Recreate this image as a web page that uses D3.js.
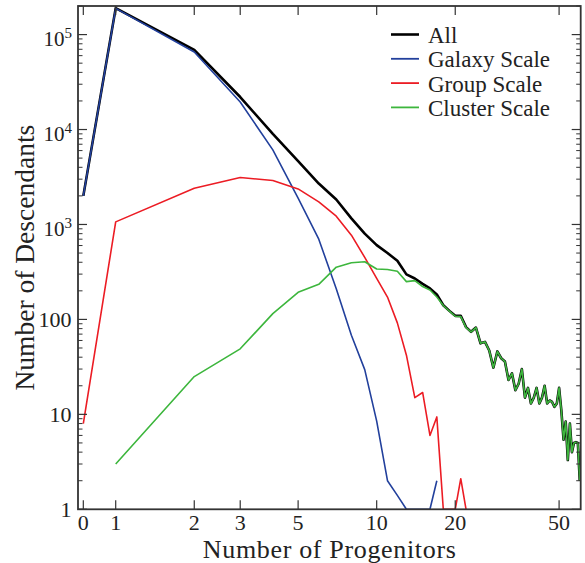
<!DOCTYPE html>
<html>
<head>
<meta charset="utf-8">
<script src="https://cdn.jsdelivr.net/npm/d3@7"></script>
<style>
  html, body { margin: 0; padding: 0; background: #fff; }
  svg { display: block; }
  text { font-family: "Liberation Serif", "DejaVu Serif", serif; fill: #222; }
</style>
</head>
<body>
<script>
// ---------------- data ----------------
const progenitorsAll = [0,1,2,3,4,5,6,7,8,9,10,11,12,13,14,15,16,17,18,19,20,21,22,23,24,25,26,27,28,29,30,31,32,33,34,35,36,37,38,39,40,41,42,43,44,45,46,47,48,49,50,51,52,53,54,55,56,57,58,59,60];
const allValues = [2000,190000,69000,22000,9000,4650,2700,1830,1160,800,606,500,414,298,270,237,212,183,141,123,109,109,83,74,82,56,58,47,31,46,39,36,23,27,18,21,30,15,19,13,15,19,13,15,20,13,14,13.5,12,13,19,11,5.4,8.4,3.3,8,4,5,5.1,5,2];

const progenitorsGalaxy = [0,1,2,3,4,5,6,7,8,9,10,11,12,13,14,15,16,17];
const galaxyValues = [2000,189000,65600,19500,6100,1900,700,210,68,29.6,8.5,2,1.4,1,1,1,1,2];

const progenitorsGroup = [0,1,2,3,4,5,6,7,8,9,10,11,12,13,14,15,16,17,18,19,20,21,22];
const groupValues = [8,1065,2410,3125,2905,2370,1730,1222,771,450,270,172,92,42,15,17,6,9.4,1,1,1,2.1,1];

const progenitorsCluster = [1,2,3,4,5,6,7,8,9,10,11,12,13,14,15,16,17,18,19,20,21,22,23,24,25,26,27,28,29,30,31,32,33,34,35,36,37,38,39,40,41,42,43,44,45,46,47,48,49,50,51,52,53,54,55,56,57,58,59,60];
const clusterValues = [3,25,49,115,193,234,355,395,405,340,336,322,250,256,222,204,172,140,122,108,107,82,74,82,56,58,47,31,46,39,36,23,27,18,21,30,15,19,13,15,19,13,15,20,13,14,13.5,12,13,19,11,5.4,8.4,3.3,8,4,5,5.1,5,2];

const seriesNames = ["All", "Galaxy Scale", "Group Scale", "Cluster Scale"];
const seriesColors = ["#000000", "#22409c", "#ec1c24", "#3db63d"];
const xTickValues = [0, 1, 2, 3, 5, 10, 20, 50];
const yTickValues = [1, 10, 100, 1000, 10000, 100000];
const yTickLabels = ["1", "10", "100", ["10","3"], ["10","4"], ["10","5"]];
const xLabel = "Number of Progenitors";
const yLabel = "Number of Descendants";

// ---------------- layout ----------------
const W = 585, H = 563;
const L = 78, R = 580.7, T = 6, B = 509.3;

const svg = d3.select("body").append("svg").attr("width", W).attr("height", H);

// piecewise x scale: linear on [0,1], log above 1
const xLin = d3.scaleLinear().domain([-0.164, 1]).range([L, 115.7]);
const xLog = d3.scaleLog().domain([1, 60.5]).range([115.7, R]);
const x = v => (v <= 1 ? xLin(v) : xLog(v));
const y = d3.scaleLog().domain([1, 2e5]).range([B, T]);

svg.append("defs").append("clipPath").attr("id", "plotclip")
  .append("rect").attr("x", L).attr("y", T).attr("width", R - L).attr("height", B - T);

const datasets = [
  { xs: progenitorsAll, ys: allValues, color: seriesColors[0], w: 2.6 },
  { xs: progenitorsGalaxy, ys: galaxyValues, color: seriesColors[1], w: 1.6 },
  { xs: progenitorsGroup, ys: groupValues, color: seriesColors[2], w: 1.6 },
  { xs: progenitorsCluster, ys: clusterValues, color: seriesColors[3], w: 1.6 }
];

const line = d3.line().x(d => x(d[0])).y(d => y(Math.max(d[1], 0.5)));

const gLines = svg.append("g").attr("clip-path", "url(#plotclip)");
datasets.forEach(ds => {
  const pts = ds.xs.map((v, i) => [v, ds.ys[i]]);
  gLines.append("path").datum(pts)
    .attr("d", line)
    .attr("fill", "none")
    .attr("stroke", ds.color)
    .attr("stroke-width", ds.w)
    .attr("stroke-linejoin", "round");
});

// ---------------- axes ----------------
const axisColor = "#333";
const gAx = svg.append("g");
const majorLen = 9, minorLen = 4.5;

// x ticks bottom & top
xTickValues.forEach(v => {
  const px = x(v);
  gAx.append("line").attr("x1", px).attr("x2", px).attr("y1", B).attr("y2", B - majorLen)
    .attr("stroke", axisColor).attr("stroke-width", 1.2);
  gAx.append("line").attr("x1", px).attr("x2", px).attr("y1", T).attr("y2", T + majorLen)
    .attr("stroke", axisColor).attr("stroke-width", 1.2);
  gAx.append("text").attr("x", px).attr("y", 529.5).attr("text-anchor", "middle")
    .attr("font-size", 22).text(v);
});

// y major & minor ticks, left & right
const yMinor = [];
for (let e = 0; e <= 5; e++) for (let m = 2; m <= 9; m++) { const v = m * Math.pow(10, e); if (v <= 2e5) yMinor.push(v); }
yMinor.forEach(v => {
  const py = y(v);
  gAx.append("line").attr("x1", L).attr("x2", L + minorLen).attr("y1", py).attr("y2", py)
    .attr("stroke", axisColor).attr("stroke-width", 1);
  gAx.append("line").attr("x1", R).attr("x2", R - minorLen).attr("y1", py).attr("y2", py)
    .attr("stroke", axisColor).attr("stroke-width", 1);
});
yTickValues.forEach((v, i) => {
  const py = y(v);
  gAx.append("line").attr("x1", L).attr("x2", L + majorLen).attr("y1", py).attr("y2", py)
    .attr("stroke", axisColor).attr("stroke-width", 1.2);
  gAx.append("line").attr("x1", R).attr("x2", R - majorLen).attr("y1", py).attr("y2", py)
    .attr("stroke", axisColor).attr("stroke-width", 1.2);
  const lab = yTickLabels[i];
  if (typeof lab === "string") {
    gAx.append("text").attr("x", 71.5).attr("y", py + 7.5).attr("text-anchor", "end")
      .attr("font-size", 22).text(lab);
  } else {
    const t = gAx.append("text").attr("x", 72).attr("y", py + 11.5).attr("text-anchor", "end")
      .attr("font-size", 21);
    t.append("tspan").text(lab[0]);
    t.append("tspan").attr("dy", -8).attr("font-size", 15).text(lab[1]);
  }
});

// frame
gAx.append("rect").attr("x", L).attr("y", T).attr("width", R - L).attr("height", B - T)
  .attr("fill", "none").attr("stroke", axisColor).attr("stroke-width", 1.8);

// axis labels
svg.append("text").attr("x", (L + R) / 2).attr("y", 557.5).attr("text-anchor", "middle")
  .attr("font-size", 26).attr("textLength", 253).attr("lengthAdjust", "spacing").text(xLabel);
svg.append("text").attr("transform", `translate(33.5,${(T + B) / 2}) rotate(-90)`)
  .attr("text-anchor", "middle").attr("font-size", 27.5).text(yLabel);

// legend
const legY0 = 34.5, legDy = 24.3;
seriesNames.forEach((name, i) => {
  const ly = legY0 + i * legDy;
  svg.append("line").attr("x1", 391).attr("x2", 419).attr("y1", ly).attr("y2", ly)
    .attr("stroke", seriesColors[i]).attr("stroke-width", i === 0 ? 2.6 : 1.8);
  svg.append("text").attr("x", 428).attr("y", ly + 8.5).attr("font-size", 23).text(name);
});
</script>
</body>
</html>
